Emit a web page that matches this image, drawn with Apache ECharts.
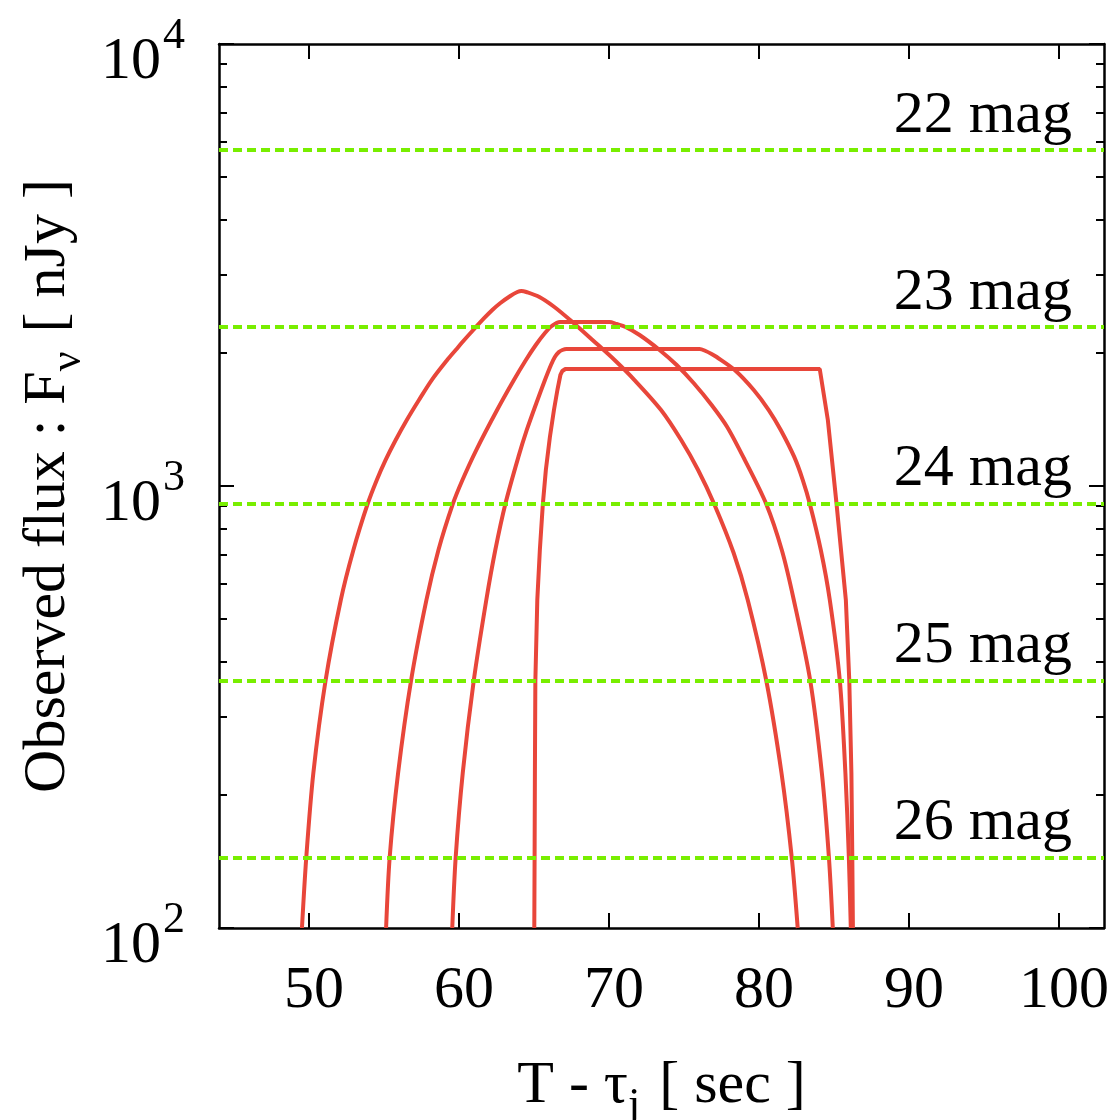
<!DOCTYPE html>
<html>
<head>
<meta charset="utf-8">
<script src="https://cdn.jsdelivr.net/npm/echarts@6/dist/echarts.min.js"></script>
<style>
  html, body { margin: 0; padding: 0; background: #ffffff; }
  #chart { width: 1115px; height: 1120px; }
</style>
</head>
<body>
<div id="chart"></div>
<script>
// Axis ticks
const xTicks = [50, 60, 70, 80, 90, 100];
const yMajorTicks = [100, 1000, 10000];
const yMinorTicks = [200, 300, 400, 500, 600, 700, 800, 900,
                     2000, 3000, 4000, 5000, 6000, 7000, 8000, 9000];

// AB magnitude reference levels (dashed lines)
const magnitudes = [22, 23, 24, 25, 26];
const AB_ZERO_POINT_NJY = 3631e9;   // 3631 Jy expressed in nJy

// Light curves: [T - tau_j (sec), F_nu (nJy)]
const lightCurve1 = [
  [49.53, 100], [49.82, 144.7], [50.29, 224.2], [51.10, 362.1], [52.12, 552.3], [52.96, 716.5],
  [53.91, 910.7], [54.52, 1031.7], [55.11, 1145.5], [55.78, 1270.6], [56.52, 1410.3],
  [57.33, 1565], [58.18, 1736.6], [59.21, 1927.6], [59.78, 2031], [60.35, 2139.5],
  [60.95, 2254], [61.69, 2399.6], [62.22, 2501.5], [62.76, 2594.4], [63.42, 2690.8],
  [63.89, 2747.5], [64.16, 2762], [64.49, 2747.5], [65.36, 2676.8], [66.36, 2541],
  [67.56, 2349.9], [68.90, 2139.5], [70.37, 1927.6], [71.70, 1736.6], [73.47, 1485.7],
  [74.81, 1270.6], [75.94, 1087], [77.01, 910.7], [78.31, 705.4], [79.25, 552.3],
  [80.49, 362.1], [81.50, 224.2], [82.18, 144.7], [82.58, 100]
];
const lightCurve2 = [
  [55.14, 100], [55.38, 144.7], [55.94, 224.2], [56.80, 362.1], [57.83, 552.3], [58.63, 716.5],
  [59.59, 910.7], [60.23, 1031.7], [61.15, 1206], [62.54, 1485.7], [63.66, 1736.6],
  [64.46, 1927.6], [65.12, 2084.5], [65.73, 2219], [66.19, 2301.5], [66.73, 2350],
  [70.03, 2350], [70.50, 2325.6], [71.10, 2289.6], [72.04, 2196], [73.37, 2031],
  [74.51, 1878], [75.64, 1710], [76.84, 1525], [77.88, 1360], [79.05, 1145.5], [80.48, 910.7],
  [81.52, 716.5], [82.32, 552.3], [83.42, 362.1], [84.19, 224.2], [84.66, 144.7], [84.92, 100]
];
const lightCurve3 = [
  [59.55, 100], [59.78, 144.7], [60.25, 224.2], [60.98, 362.1], [61.82, 552.3], [62.42, 716.5],
  [63.09, 910.7], [63.96, 1163.5], [64.52, 1339], [65.16, 1541], [65.73, 1736.6],
  [66.13, 1878], [66.39, 1958], [66.66, 2010], [66.89, 2031], [67.16, 2041.7],
  [76.04, 2041.7], [76.44, 2020.5], [76.84, 1989], [77.18, 1958], [78.38, 1830],
  [79.65, 1649], [80.65, 1485.7], [81.45, 1339], [82.35, 1163.5], [82.92, 1031.7],
  [83.39, 910.7], [84.12, 716.5], [84.72, 552.3], [85.39, 362.1], [85.76, 224.2],
  [85.99, 144.7], [86.12, 100]
];
const lightCurve4 = [
  [65.02, 100], [65.04, 144.7], [65.06, 224.2], [65.09, 362.1], [65.22, 552.3], [65.39, 716.5],
  [65.59, 910.7], [65.79, 1087], [66.06, 1291], [66.33, 1485.7], [66.56, 1649], [66.76, 1783],
  [66.89, 1820.6], [67.09, 1839.7], [84.05, 1839.7], [84.59, 1410.3], [85.17, 910.7],
  [85.79, 552.3], [86.02, 362.1], [86.16, 224.2], [86.22, 144.7], [86.26, 100]
];

const SERIF = '"Liberation Serif", "Times New Roman", serif';
const RED = '#e8463a';
const GREEN = '#78ee00';

function fluxFromMag(m) {
  return AB_ZERO_POINT_NJY * Math.pow(10, -0.4 * m);
}

const frameLine = { show: true, lineStyle: { color: '#000', width: 2.5 } };
const X_MIN = 44, X_MAX = 103, Y_MIN = 100, Y_MAX = 10000;

// Rich styles for titles with a lowered subscript
const titleRich = {
  n: { fontFamily: SERIF, fontSize: 60, color: '#000', lineHeight: 60, verticalAlign: 'top' },
  s: { fontFamily: SERIF, fontSize: 44, color: '#000', lineHeight: 44, verticalAlign: 'top',
       padding: [28, 4, 0, 0] }
};

function curveSeries(data, smooth) {
  return {
    type: 'line',
    data: data,
    xAxisIndex: 0,
    yAxisIndex: 0,
    showSymbol: false,
    symbol: 'none',
    smooth: smooth,
    lineStyle: { color: RED, width: 4 },
    z: 3
  };
}

const chart = echarts.init(document.getElementById('chart'), null, { renderer: 'canvas' });

chart.setOption({
  animation: false,
  backgroundColor: '#ffffff',
  grid: { left: 219, right: 11, top: 44, bottom: 192, containLabel: false, outerBoundsMode: 'none' },
  xAxis: [
    {
      type: 'value', min: X_MIN, max: X_MAX, position: 'bottom',
      axisLine: frameLine,
      axisTick: { show: true, inside: true, length: 15, customValues: xTicks,
                  lineStyle: { color: '#000', width: 2 } },
      axisLabel: { show: true, customValues: xTicks, margin: 33, color: '#000',
                   fontFamily: SERIF, fontSize: 60, padding: [0, 0, 0, 10] },
      splitLine: { show: false },
      name: '{n|T - \u03c4}{s|j}{n| [ sec ]}',
      nameLocation: 'middle',
      nameGap: 128,
      nameTextStyle: { rich: titleRich }
    },
    {
      type: 'value', min: X_MIN, max: X_MAX, position: 'top',
      axisLine: frameLine,
      axisTick: { show: true, inside: true, length: 15, customValues: xTicks,
                  lineStyle: { color: '#000', width: 2 } },
      axisLabel: { show: false },
      splitLine: { show: false }
    }
  ],
  yAxis: [
    {
      type: 'log', logBase: 10, min: Y_MIN, max: Y_MAX, position: 'left',
      axisLine: frameLine,
      axisTick: { show: true, inside: true, length: 15, customValues: yMajorTicks,
                  lineStyle: { color: '#000', width: 2 } },
      axisLabel: {
        show: true, customValues: yMajorTicks, margin: 34,
        formatter: function (v) {
          return '{b|10}{s|' + Math.round(Math.log10(v)) + '}';
        },
        rich: {
          b: { fontFamily: SERIF, fontSize: 60, color: '#000', lineHeight: 60,
               verticalAlign: 'top', padding: [18, 0, 0, 0] },
          s: { fontFamily: SERIF, fontSize: 44, color: '#000', lineHeight: 44,
               verticalAlign: 'top', padding: [0, 0, 0, 2] }
        }
      },
      splitLine: { show: false },
      name: '{n|Observed flux : F}{s|\u03bd}{n| [ nJy ]}',
      nameLocation: 'middle',
      nameGap: 129,
      nameRotate: 90,
      nameTextStyle: { rich: titleRich }
    },
    {
      type: 'log', logBase: 10, min: Y_MIN, max: Y_MAX, position: 'left',
      axisLine: { show: false },
      axisTick: { show: true, inside: true, length: 8, customValues: yMinorTicks,
                  lineStyle: { color: '#000', width: 2 } },
      axisLabel: { show: false },
      splitLine: { show: false }
    },
    {
      type: 'log', logBase: 10, min: Y_MIN, max: Y_MAX, position: 'right',
      axisLine: frameLine,
      axisTick: { show: true, inside: true, length: 15, customValues: yMajorTicks,
                  lineStyle: { color: '#000', width: 2 } },
      axisLabel: { show: false },
      splitLine: { show: false }
    },
    {
      type: 'log', logBase: 10, min: Y_MIN, max: Y_MAX, position: 'right',
      axisLine: { show: false },
      axisTick: { show: true, inside: true, length: 8, customValues: yMinorTicks,
                  lineStyle: { color: '#000', width: 2 } },
      axisLabel: { show: false },
      splitLine: { show: false }
    }
  ],
  series: [
    {
      type: 'line',
      data: [],
      xAxisIndex: 0,
      yAxisIndex: 0,
      z: 2,
      markLine: {
        silent: true,
        symbol: ['none', 'none'],
        animation: false,
        lineStyle: { color: GREEN, width: 4, type: [9, 5] },
        label: {
          show: true,
          position: 'insideEndTop',
          formatter: '{b}',
          distance: [32, 4],
          fontFamily: SERIF,
          fontSize: 60,
          color: '#000'
        },
        emphasis: { disabled: true },
        data: magnitudes.map(function (m) {
          return { name: m + ' mag', yAxis: fluxFromMag(m) };
        })
      }
    },
    curveSeries(lightCurve1, 0.3),
    curveSeries(lightCurve2, 0.3),
    curveSeries(lightCurve3, 0.3),
    curveSeries(lightCurve4, false)
  ]
});
</script>
</body>
</html>
